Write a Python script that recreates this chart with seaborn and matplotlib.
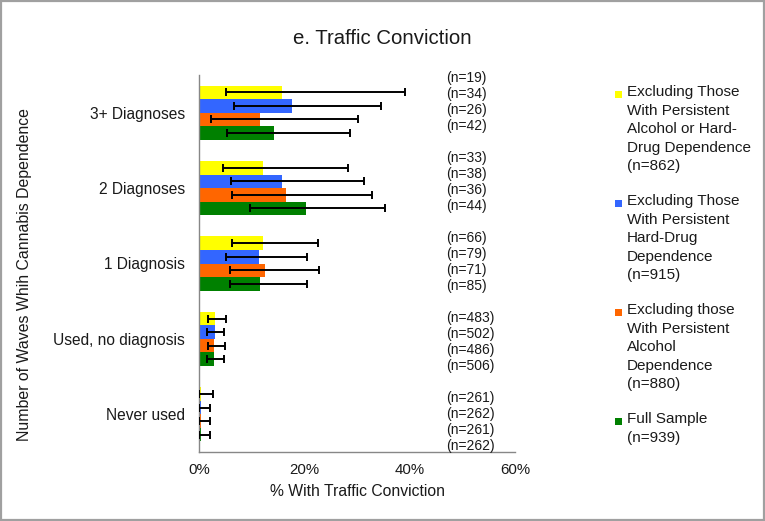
import matplotlib
matplotlib.use("Agg")
import matplotlib.pyplot as plt
from matplotlib.patches import Rectangle
from matplotlib.ticker import FuncFormatter, FixedLocator
import matplotlib.transforms as mtransforms
import seaborn as sns
import pandas as pd
import numpy as np

# ---------------- data ----------------
categories = ["3+ Diagnoses", "2 Diagnoses", "1 Diagnosis", "Used, no diagnosis", "Never used"]
series = [
    "Excluding Those\nWith Persistent\nAlcohol or Hard-\nDrug Dependence\n(n=862)",
    "Excluding Those\nWith Persistent\nHard-Drug\nDependence\n(n=915)",
    "Excluding those\nWith Persistent\nAlcohol\nDependence\n(n=880)",
    "Full Sample\n(n=939)",
]
colors = ["#FFFF00", "#3366FF", "#FF6600", "#008000"]

# percent with traffic conviction, per series, per category (top to bottom)
excl_alc_hard = [15.7, 12.2, 12.2, 3.0, 0.4]
excl_hard = [17.6, 15.7, 11.3, 2.95, 0.3]
excl_alc = [11.5, 16.6, 12.6, 2.9, 0.3]
full_sample = [14.2, 20.3, 11.6, 2.8, 0.3]

# confidence interval lower / upper bounds
low_alc_hard = [5.1, 4.6, 6.2, 1.8, 0.0]
high_alc_hard = [39.2, 28.2, 22.5, 5.1, 2.7]
low_hard = [6.7, 6.0, 5.2, 1.5, 0.0]
high_hard = [34.6, 31.3, 20.5, 4.7, 2.1]
low_alc = [2.3, 6.3, 5.9, 1.7, 0.0]
high_alc = [30.2, 32.8, 22.7, 4.9, 2.1]
low_full = [5.4, 9.7, 5.8, 1.5, 0.0]
high_full = [28.6, 35.4, 20.6, 4.7, 2.1]

# group sizes
n_alc_hard = [19, 33, 66, 483, 261]
n_hard = [34, 38, 79, 502, 262]
n_alc = [26, 36, 71, 486, 261]
n_full = [42, 44, 85, 506, 262]

x_ticks = [0, 20, 40, 60]

values = [excl_alc_hard, excl_hard, excl_alc, full_sample]
lows = [low_alc_hard, low_hard, low_alc, low_full]
highs = [high_alc_hard, high_hard, high_alc, high_full]
ns = [n_alc_hard, n_hard, n_alc, n_full]

rows = []
for s, vals in zip(series, values):
    for c, v in zip(categories, vals):
        rows.append({"category": c, "series": s, "value": v})
df = pd.DataFrame(rows)

# ---------------- style ----------------
sns.set_style("white")
plt.rcParams["font.family"] = ["Liberation Sans", "DejaVu Sans"]

W, H = 765, 521
fig = plt.figure(figsize=(W / 100, H / 100), dpi=100)
ax_left, ax_right, ax_top, ax_bottom = 199, 515, 75, 452
ax = fig.add_axes([ax_left / W, 1 - ax_bottom / H, (ax_right - ax_left) / W, (ax_bottom - ax_top) / H])

sns.barplot(data=df, x="value", y="category", hue="series", order=categories,
            hue_order=series, palette=colors, width=0.72, saturation=1,
            errorbar=None, legend=False, ax=ax, edgecolor="none", linewidth=0)

# error bars using bar positions from seaborn containers
for cont, vals, lo, hi in zip(ax.containers, values, lows, highs):
    ys = [p.get_y() + p.get_height() / 2 for p in cont.patches]
    vals = np.array(vals)
    xerr = np.vstack([vals - np.array(lo), np.array(hi) - vals])
    ax.errorbar(vals, ys, xerr=xerr, fmt="none", ecolor="black", elinewidth=1.4,
                capsize=2.6, capthick=1.4, zorder=5)

# axes styling
ax.set_xlim(0, 60)
ax.set_ylim(len(categories) - 0.5, -0.5)
ax.xaxis.set_major_locator(FixedLocator(x_ticks))
ax.xaxis.set_major_formatter(FuncFormatter(lambda v, p: f"{v:.0f}%"))
for side in ["top", "right"]:
    ax.spines[side].set_visible(False)
axis_col = "#878787"
for side in ["left", "bottom"]:
    ax.spines[side].set_color(axis_col)
    ax.spines[side].set_linewidth(1.0)
txt_col = "#1a1a1a"
ax.tick_params(axis="x", which="major", direction="out", length=4, color=axis_col,
               width=1.0, labelsize=10.8, pad=4, labelcolor=txt_col)
ax.tick_params(axis="y", which="major", length=0, labelsize=11.2, pad=10, labelcolor=txt_col)
ax.yaxis.set_minor_locator(FixedLocator(np.arange(-0.5, len(categories), 1.0)))
ax.tick_params(axis="y", which="minor", direction="out", length=5, color=axis_col, width=1.0)

ax.set_xlabel("% With Traffic Conviction", fontsize=11.3, color=txt_col, labelpad=5)
ax.set_ylabel("Number of Waves Whih Cannabis Dependence", fontsize=11.4, color=txt_col)
ax.yaxis.set_label_coords(-0.528, 0.47)

# n labels (blended: data x, axes y)
trans = mtransforms.blended_transform_factory(ax.transData, ax.transAxes)
label_x = 47.0
label_top = 0.992
group_step = 80 / 377
line_step = 16 / 377
for k, nvals in enumerate(ns):
    for g, n in enumerate(nvals):
        ax.text(label_x, label_top - g * group_step - k * line_step, f"(n={n})",
                transform=trans, ha="left", va="center", fontsize=10, color=txt_col,
                clip_on=False)

# title
fig.text(0.5, 1 - 38 / H, "e. Traffic Conviction", ha="center", va="center",
         fontsize=14.7, color=txt_col)

# manual legend
leg_text_x = 627
leg_sq_x = 615
sq = 7
line_h = 19
gap = 14
top = 85
for s, col in zip(series, colors):
    nlines = s.count("\n") + 1
    fig.text(leg_text_x / W, 1 - top / H, s, ha="left", va="top", fontsize=11,
             linespacing=1.41, color=txt_col)
    fig.add_artist(Rectangle((leg_sq_x / W, 1 - (top + 6 + sq) / H), sq / W, sq / H,
                             transform=fig.transFigure, facecolor=col, edgecolor="none"))
    top += nlines * line_h + gap

# figure border
fig.add_artist(Rectangle((1 / W, 1 / H), (W - 2) / W, (H - 2) / H, transform=fig.transFigure,
                         fill=False, edgecolor="#A0A0A0", linewidth=1.6))

fig.savefig("out.png", dpi=100)
